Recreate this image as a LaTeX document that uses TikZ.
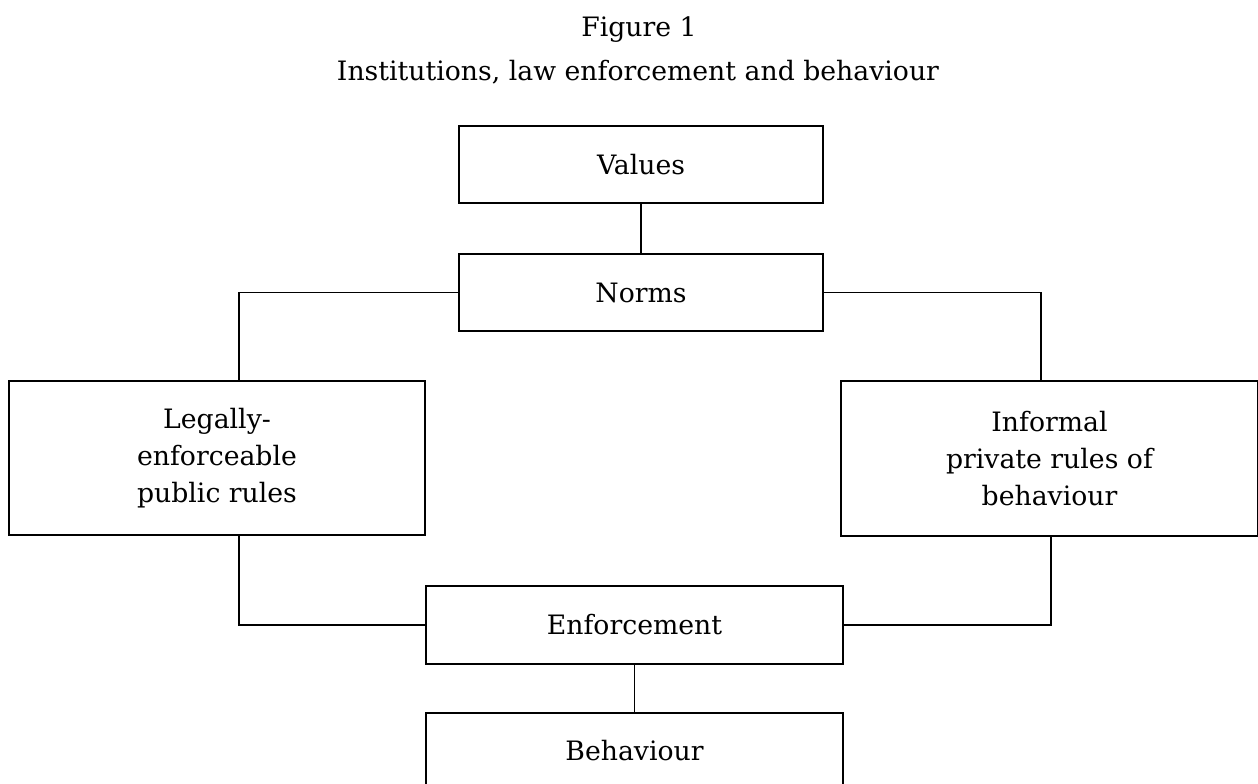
\documentclass[tikz,border=0pt]{standalone}
\usepackage{fontspec}
\setmainfont{DejaVu Serif}
\begin{document}
\begin{tikzpicture}[x=1pt,y=-1pt,
  every node/.style={inner sep=0pt, outer sep=0pt},
  box/.style={draw, line width=1.4pt, align=center, font=\fontsize{26.7}{37}\selectfont},
  conn/.style={line width=1.4pt},
  ttl/.style={anchor=base, font=\fontsize{26.7}{37}\selectfont}]
\useasboundingbox[fill=white] (0,0) rectangle (1258,784);
\node[ttl] (t1) at (639,37) {Figure 1};
\node[ttl] (t2) at (638,81) {Institutions, law enforcement and behaviour};
\node[box, minimum width=364pt, minimum height=77pt] (values) at (641,164.5) {Values};
\node[box, minimum width=364pt, minimum height=77pt] (norms) at (641,292.5) {Norms};
\node[box, minimum width=416pt, minimum height=154pt] (legal) at (217,458) {Legally-\\enforceable\\public rules};
\node[box, minimum width=417pt, minimum height=155pt] (informal) at (1049.5,458.5) {Informal\\private rules of\\behaviour};
\node[box, minimum width=417pt, minimum height=78pt] (enf) at (634.5,625) {Enforcement};
\node[box, minimum width=417pt, minimum height=76pt] (beh) at (634.5,751) {Behaviour};
\coordinate (lt) at (239,381);
\coordinate (lb) at (239,535);
\coordinate (rt) at (1041,381);
\coordinate (rb) at (1051,536);
\draw[conn] (values.south) -- (norms.north);
\draw[conn] (norms.west) -| (lt);
\draw[conn] (norms.east) -| (rt);
\draw[conn] (lb) |- (enf.west);
\draw[conn] (rb) |- (enf.east);
\draw[conn] (enf.south) -- (beh.north);
\end{tikzpicture}
\end{document}
